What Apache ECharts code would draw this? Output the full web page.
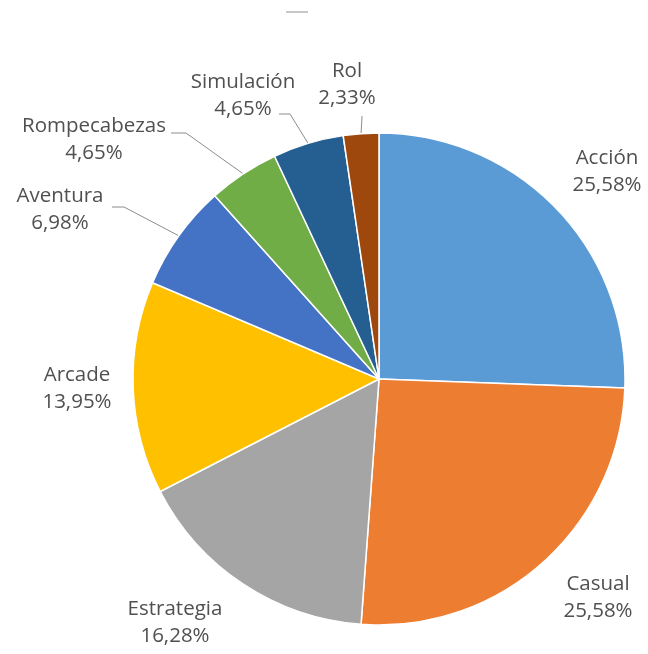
<!DOCTYPE html>
<html><head><meta charset="utf-8">
<script src="https://cdn.jsdelivr.net/npm/echarts@6/dist/echarts.min.js"></script>
<style>html,body{margin:0;padding:0;background:#fff}#c{width:648px;height:654px}</style>
</head><body><div id="c"></div>
<script>
const categories = ['Acción','Casual','Estrategia','Arcade','Aventura','Rompecabezas','Simulación','Rol'];
const values = [11, 11, 7, 6, 3, 2, 2, 1];
const colors = ['#5B9BD5','#ED7D31','#A5A5A5','#FFC000','#4472C4','#70AD47','#255E91','#9E480E'];
// label placement (centre of the two-line label) and leader-line info
const labelPos = [[607,172],[598,598],[175,623],[77,389],[60,210],[94,140],[243,96],[347,85]];
const leader = [null,null,null,null,
  {from:[112,207], knee:[124,207]},
  {from:[171,133], knee:[186,133]},
  {from:[279,114], knee:[290,114]},
  {from:[362,116], knee:null}];

const chart = echarts.init(document.getElementById('c'));
const data = categories.map((n,i)=>({
  name:n, value:values[i], itemStyle:{color:colors[i]},
  labelLine:{show: !!leader[i]}
}));
chart.setOption({
  animation:false,
  graphic:[{type:'line',shape:{x1:286,y1:12,x2:308,y2:12},style:{stroke:'#c8c8c8',lineWidth:2}}],
  series:[{
    type:'pie',
    center:[379,379],
    radius:246,
    startAngle:90,
    clockwise:true,
    data:data,
    itemStyle:{borderColor:'#fff',borderWidth:1.5},
    label:{
      show:true, position:'outside', overflow:'none',
      fontFamily:'Open Sans', fontSize:20.5, lineHeight:27, color:'#505050',
      formatter:p=>p.name+'\n'+p.percent.toFixed(2).replace('.',',')+'%'
    },
    labelLine:{show:true, length:10, length2:10, lineStyle:{color:'#8c8c8c',width:1}},
    emphasis:{disabled:true},
    labelLayout:function(params){
      const i = params.dataIndex;
      const p = labelPos[i];
      const out = {x:p[0], y:p[1], align:'center', verticalAlign:'middle'};
      const L = leader[i];
      if (L && params.labelLinePoints) {
        const edge = params.labelLinePoints[0];
        out.labelLinePoints = L.knee ? [L.from, L.knee, edge] : [L.from, [L.from[0], L.from[1]+1], edge];
      }
      return out;
    }
  }]
});
</script></body></html>
